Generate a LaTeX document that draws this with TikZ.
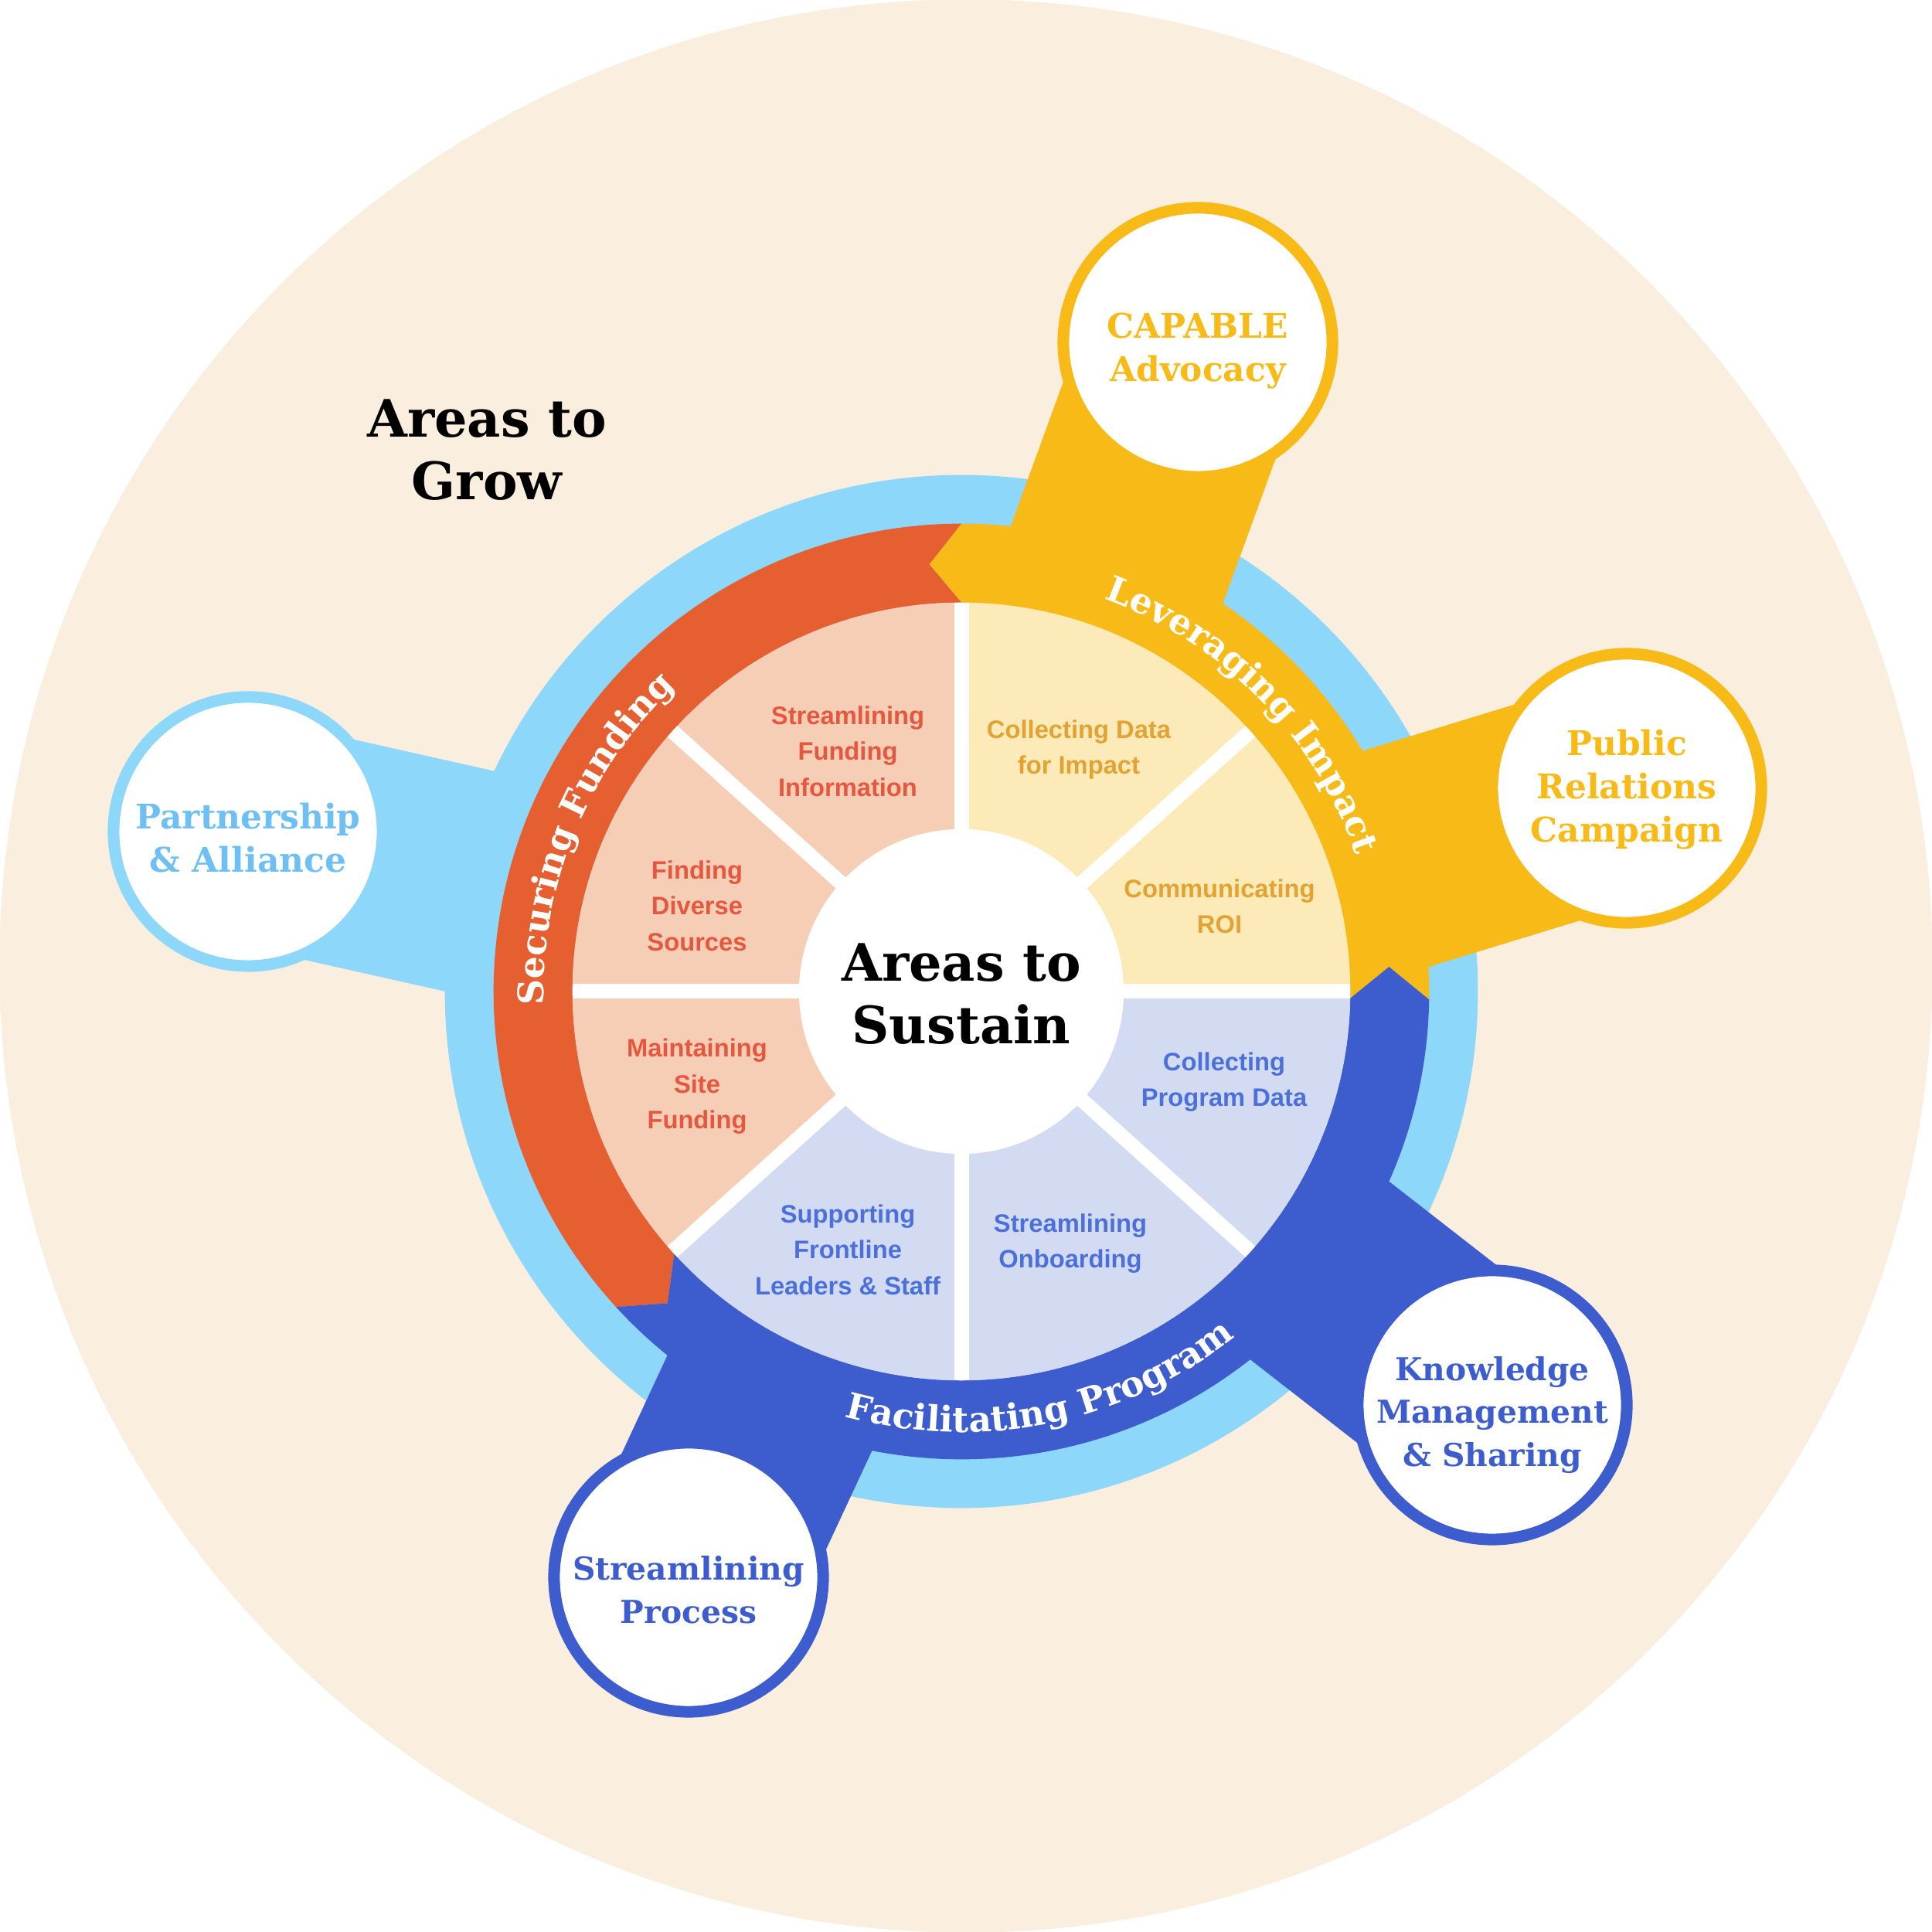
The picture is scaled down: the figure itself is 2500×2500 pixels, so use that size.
\documentclass[tikz,border=0pt]{standalone}
\usepackage{fontspec}
\usetikzlibrary{decorations.text,calc}
\newfontfamily\dserif{DejaVu Serif}
\newfontfamily\lsans{Liberation Sans}
\newcommand\bandfont{\dserif\bfseries\fontsize{13}{15}\selectfont}
\definecolor{beige}{HTML}{FAEEDE}
\definecolor{ltblue}{HTML}{8DD7FB}
\definecolor{orng}{HTML}{E55F30}
\definecolor{yell}{HTML}{F8BA17}
\definecolor{blu}{HTML}{3D5CCD}
\definecolor{peach}{HTML}{F6CDB5}
\definecolor{cream}{HTML}{FDEAB9}
\definecolor{lav}{HTML}{D3DBF3}
\definecolor{peachtxt}{HTML}{E5583F}
\definecolor{yelltxt}{HTML}{E3A232}
\definecolor{blutxt}{HTML}{4C70DA}
\definecolor{ltbluetxt}{HTML}{6EC0F4}
\tikzset{
  stripconn/.style={line width=2.92cm, line cap=butt},
  outercirc/.style={circle, fill=white, line width=0.15cm, minimum size=3.48cm, inner sep=0pt},
  circtext/.style={align=center, inner sep=0pt, font=\dserif\bfseries\fontsize{12.5}{15.9}\selectfont},
  circtextsm/.style={align=center, inner sep=0pt, font=\dserif\bfseries\fontsize{11.6}{15.9}\selectfont},
  secttext/.style={align=center, font=\lsans\bfseries\fontsize{9.3}{13.2}\selectfont},
  bigtitle/.style={align=center, font=\dserif\bfseries\fontsize{19}{23}\selectfont},
  gapline/.style={white, line width=0.19cm},
  bandtext/.style={decorate, decoration={text along path, text align=center, text color=white, text={|\bandfont|#1}}}
}
\begin{document}
\begin{tikzpicture}[x=0.01cm,y=0.01cm]
\useasboundingbox (0,0) rectangle (2500,2500);
\fill[white] (0,0) rectangle (2500,2500);
\fill[beige] (1250,1250) circle[radius=12.5cm];
\coordinate (C) at (1244,1217);
\coordinate (capableC) at (1550,2057);
\coordinate (prcC) at (2105,1480);
\coordinate (partnerC) at (321,1424);
\coordinate (knowC) at (1931,682);
\coordinate (procC) at (891,459);
% light blue ring
\fill[ltblue] (C) circle[radius=6.68cm];
% connector strips
\draw[stripconn, yell] (C) -- (capableC);
\draw[stripconn, yell] (C) -- (prcC);
\draw[stripconn, ltblue] (C) -- (partnerC);
\draw[stripconn, blu] (C) -- (knowC);
\draw[stripconn, blu] (C) -- (procC);
\begin{scope}[shift={(C)}]
  % band segments with arrow tips
  \fill[yell] (-1:5.03cm) arc[start angle=-1, end angle=90, radius=5.03cm] -- (94.3:5.54cm) -- (90:6.05cm) arc[start angle=90, end angle=-1, radius=6.05cm] -- (3.3:5.54cm) -- cycle;
  \fill[orng] (90:5.03cm) arc[start angle=90, end angle=222.4, radius=5.03cm] -- (226.7:5.54cm) -- (222.4:6.05cm) arc[start angle=222.4, end angle=90, radius=6.05cm] -- (94.3:5.54cm) -- cycle;
  \fill[blu] (222.4:5.03cm) arc[start angle=222.4, end angle=359, radius=5.03cm] -- (363.3:5.54cm) -- (359:6.05cm) arc[start angle=359, end angle=222.4, radius=6.05cm] -- (226.7:5.54cm) -- cycle;
  % pie
  \fill[cream] (0,0) -- (0:5.03cm) arc[start angle=0, end angle=90, radius=5.03cm] -- cycle;
  \fill[peach] (0,0) -- (90:5.03cm) arc[start angle=90, end angle=222, radius=5.03cm] -- cycle;
  \fill[lav] (0,0) -- (222:5.03cm) arc[start angle=222, end angle=360, radius=5.03cm] -- cycle;
  \foreach \a in {0,42,90,138,180,222,270,318}
    \draw[gapline] (0,0) -- (\a:5.03cm);
  \fill[white] (0,0) circle[radius=2.10cm];
  % band labels
  \path[bandtext={Leveraging Impact}] (84.5:5.40cm) arc[start angle=84.5, end angle=4.5, radius=5.40cm];
  \path[bandtext={Securing Funding}] (197.5:5.40cm) arc[start angle=197.5, end angle=117.5, radius=5.40cm];
  \path[bandtext={Facilitating Program}] (241.5:5.70cm) arc[start angle=241.5, end angle=321.5, radius=5.70cm];
  % sector texts
  \node[secttext, text=peachtxt] (sfi) at (-147,311) {Streamlining\\Funding\\Information};
  \node[secttext, text=peachtxt] (fds) at (-342,111) {Finding\\Diverse\\Sources};
  \node[secttext, text=peachtxt] (msf) at (-342,-123) {Maintaining\\Site\\Funding};
  \node[secttext, text=blutxt] (sfl) at (-147,-334) {Supporting\\Frontline\\Leaders \& Staff};
  \node[secttext, text=blutxt] (sob) at (141,-326) {Streamlining\\Onboarding};
  \node[secttext, text=blutxt] (cpd) at (340,-117) {Collecting\\Program Data};
  \node[secttext, text=yelltxt] (croi) at (334,110) {Communicating\\ROI};
  \node[secttext, text=yelltxt] (cdi) at (152,313) {Collecting Data\\for Impact};
  \node[bigtitle] (sustain) at (0,-3) {Areas to\\Sustain};
\end{scope}
% outer circles
\node[outercirc, draw=yell] (capable) at (capableC) {};
\node[circtext, text=yell] (capableT) at ([yshift=-0.11cm]capable.center) {CAPABLE\\Advocacy};
\node[outercirc, draw=yell] (prc) at (prcC) {};
\node[circtext, text=yell] (prcT) at ([yshift=-0.02cm]prc.center) {Public\\Relations\\Campaign};
\node[outercirc, draw=ltblue] (partner) at (partnerC) {};
\node[circtext, text=ltbluetxt] (partnerT) at ([yshift=-0.08cm]partner.center) {Partnership\\\& Alliance};
\node[outercirc, draw=blu] (know) at (knowC) {};
\node[circtextsm, text=blu] (knowT) at ([yshift=-0.13cm]know.center) {Knowledge\\Management\\\& Sharing};
\node[outercirc, draw=blu] (proc) at (procC) {};
\node[circtextsm, text=blu] (procT) at ([yshift=-0.16cm]proc.center) {Streamlining\\Process};
\node[bigtitle] (grow) at (630,1918) {Areas to\\Grow};
\end{tikzpicture}
\end{document}
